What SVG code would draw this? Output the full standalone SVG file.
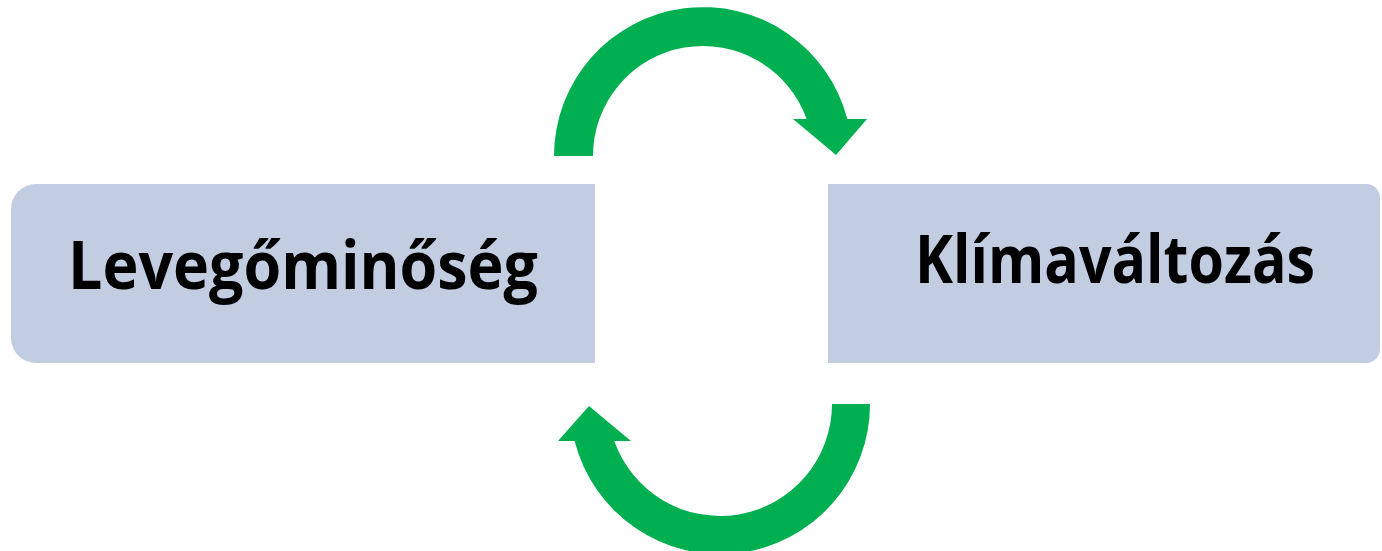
<svg xmlns="http://www.w3.org/2000/svg" width="1382" height="551" viewBox="0 0 1382 551">
<style>
.box{fill:#C3CDE2;}
.arrow{fill:#00B050;}
.lbl{font-family:"Open Sans","Liberation Sans",sans-serif;font-weight:bold;font-size:66px;fill:#000;}
</style>
<rect width="1382" height="551" fill="#fff"/>
<g id="node-levegominoseg">
<path class="box" d="M595,184 H36 A25,25 0 0 0 11,209 V338 A25,25 0 0 0 36,363 H595 Z"/>
<text class="lbl" x="68" y="289" textLength="470" lengthAdjust="spacingAndGlyphs">Levegőminőség</text>
</g>
<g id="node-klimavaltozas">
<path class="box" d="M828,184 H1366 A14,14 0 0 1 1380,198 V349 A14,14 0 0 1 1366,363 H828 Z"/>
<text class="lbl" x="915" y="283" textLength="400" lengthAdjust="spacingAndGlyphs">Klímaváltozás</text>
</g>
<g id="connectors">
<path class="arrow" d="M554,156 A149,149 0 0 1 847.3,119 L867,119 L836,155 L793,119 L806.6,119 A110,110 0 0 0 593,156 Z"/>
<path class="arrow" d="M870,404 A150,150 0 0 1 574.6,441 L558,441 L589,406 L631,441 L614.3,441 A112,112 0 0 0 832,404 Z"/>
</g>
</svg>
